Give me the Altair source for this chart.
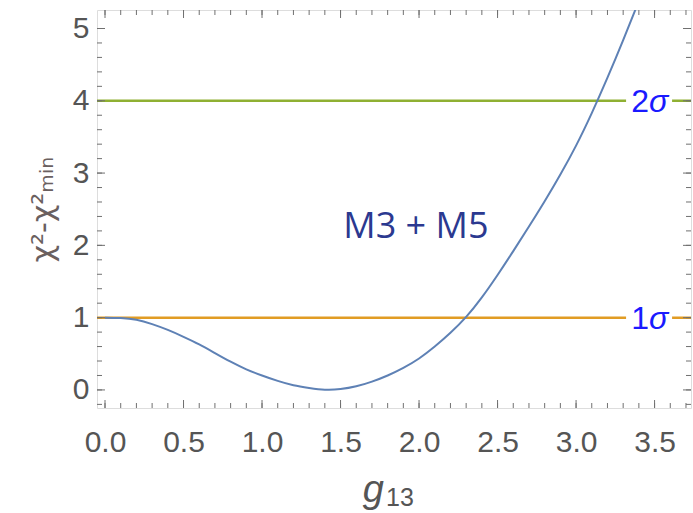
import altair as alt
import pandas as pd

# ---- data ----
g13 = [0.0, 0.1, 0.2, 0.3, 0.4, 0.5, 0.6, 0.7, 0.8, 0.9, 1.0, 1.1, 1.2, 1.3, 1.4,
       1.5, 1.6, 1.7, 1.8, 1.9, 2.0, 2.1, 2.2, 2.3, 2.4, 2.5, 2.6, 2.7, 2.8, 2.9,
       3.0, 3.1, 3.2, 3.3, 3.4]
dchi2 = [1.00, 0.995, 0.97, 0.91, 0.83, 0.735, 0.63, 0.51, 0.39, 0.285, 0.20, 0.125,
         0.065, 0.028, 0.004, 0.012, 0.05, 0.115, 0.20, 0.305, 0.435, 0.60, 0.79, 1.01,
         1.28, 1.59, 1.92, 2.26, 2.61, 2.98, 3.38, 3.83, 4.32, 4.84, 5.38]

level_values = [1, 4]
level_numbers = ["1", "2"]
level_colors = ["#e19c24", "#8fb032"]
label_x = [3.465, 3.465]

annot_text = ["M3 + M5"]
annot_x = [1.98]
annot_y = [2.10]

x_tick_labels = [0.0, 0.5, 1.0, 1.5, 2.0, 2.5, 3.0, 3.5]
y_tick_labels = [0, 1, 2, 3, 4, 5]
x_minor = [round(0.1 * i, 1) for i in range(0, 38)]
y_minor = [round(-0.2 + 0.2 * i, 1) for i in range(0, 27)]

x_title_main = ["g"]
x_title_sub = ["13"]

XDOM = [-0.051, 3.732]
YDOM = [-0.25, 5.256]
W, H = 594, 398

curve_df = pd.DataFrame({"g": g13, "d": dchi2})
lvl_df = pd.DataFrame({"y": level_values, "num": level_numbers, "c": level_colors,
                       "x": label_x, "sig": ["σ", "σ"]})
ann_df = pd.DataFrame({"t": annot_text, "x": annot_x, "y": annot_y})

xs = alt.Scale(domain=XDOM, nice=False, zero=False)
ys = alt.Scale(domain=YDOM, nice=False, zero=False)

xaxis = alt.Axis(values=x_tick_labels, format=".1f", ticks=False, domain=False, grid=False,
                 labelFontSize=30, labelFont="Liberation Sans", labelColor="#555555",
                 labelPadding=19, title=None)
yaxis = alt.Axis(values=y_tick_labels, format="d", ticks=False, domain=False, grid=False,
                 labelFontSize=30, labelFont="Liberation Sans", labelColor="#555555",
                 labelPadding=8, title="χ²-χ²ₘᵢₙ", titleFontSize=30, titleFontWeight="normal",
                 titleFont="DejaVu Sans", titleColor="#6a6060", titlePadding=14)

# horizontal level lines
levels = alt.Chart(lvl_df).mark_rule(strokeWidth=2.5).encode(
    y=alt.Y("y:Q", scale=ys, axis=yaxis),
    x=alt.value(0), x2=alt.value(W),
    color=alt.Color("c:N", scale=None),
)

curve = alt.Chart(curve_df).mark_line(color="#5e81b5", strokeWidth=2, clip=True,
                                      interpolate="natural").encode(
    x=alt.X("g:Q", scale=xs, axis=xaxis),
    y=alt.Y("d:Q", scale=ys),
)

boxes = alt.Chart(lvl_df).mark_point(
    shape="M-1,-0.65L1,-0.65L1,0.65L-1,0.65Z", filled=True, fill="white",
    stroke=None, opacity=1, size=2116,
).encode(x=alt.X("x:Q", scale=xs), y=alt.Y("y:Q", scale=ys))

nums = alt.Chart(lvl_df).mark_text(
    align="right", baseline="middle", fontSize=32, font="Liberation Sans",
    color="#1a1aff", dy=1,
).encode(x=alt.X("x:Q", scale=xs), y=alt.Y("y:Q", scale=ys), text="num:N")

sigs = alt.Chart(lvl_df).mark_text(
    align="left", baseline="middle", fontSize=32, font="Liberation Sans",
    fontStyle="italic", color="#1a1aff", dy=1,
).encode(x=alt.X("x:Q", scale=xs), y=alt.Y("y:Q", scale=ys), text="sig:N")

annot = alt.Chart(ann_df).mark_text(
    align="center", baseline="alphabetic", fontSize=36, font="Open Sans",
    color="#2b3990",
).encode(x=alt.X("x:Q", scale=xs), y=alt.Y("y:Q", scale=ys), text="t:N")

# x-axis title: italic g with upright subscript 13
xt_main = alt.Chart(pd.DataFrame({"t": x_title_main})).mark_text(
    align="right", baseline="alphabetic", fontSize=38, font="Liberation Sans",
    fontStyle="italic", color="#555555",
).encode(x=alt.value(287), y=alt.value(492), text="t:N")
xt_sub = alt.Chart(pd.DataFrame({"t": x_title_sub})).mark_text(
    align="left", baseline="alphabetic", fontSize=25, font="Liberation Sans",
    color="#555555",
).encode(x=alt.value(289), y=alt.value(496), text="t:N")

# inward frame ticks
xmaj_df = pd.DataFrame({"v": x_tick_labels})
xmin_df = pd.DataFrame({"v": x_minor})
ymaj_df = pd.DataFrame({"v": y_tick_labels})
ymin_df = pd.DataFrame({"v": y_minor})
TC = "#707070"

def xticks(df, length):
    b = alt.Chart(df).mark_rule(color=TC, strokeWidth=1)
    bottom = b.encode(x=alt.X("v:Q", scale=xs), y=alt.value(H), y2=alt.value(H - length))
    top = b.encode(x=alt.X("v:Q", scale=xs), y=alt.value(0), y2=alt.value(length))
    return bottom + top

def yticks(df, length):
    b = alt.Chart(df).mark_rule(color=TC, strokeWidth=1)
    left = b.encode(y=alt.Y("v:Q", scale=ys), x=alt.value(0), x2=alt.value(length))
    right = b.encode(y=alt.Y("v:Q", scale=ys), x=alt.value(W), x2=alt.value(W - length))
    return left + right

ticks = xticks(xmin_df, 5) + xticks(xmaj_df, 8) + yticks(ymin_df, 5) + yticks(ymaj_df, 8)

chart = alt.layer(levels, curve, boxes, nums, sigs, annot, xt_main, xt_sub, ticks).properties(
    width=W, height=H,
    autosize=alt.AutoSizeParams(type="none"),
    padding={"left": 97, "top": 10, "right": 2, "bottom": 105},
).configure_view(stroke="#111111", strokeWidth=1.5).configure(background="white")

chart.save("out.html", embed_options={"renderer": "svg", "actions": False})
